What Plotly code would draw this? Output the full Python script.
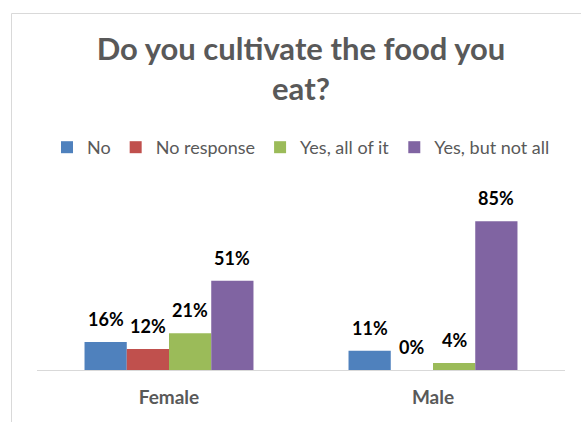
import plotly.graph_objects as go

# Survey results: share of respondents by answer, split by gender
categories = ["Female", "Male"]
answers = ["No", "No response", "Yes, all of it", "Yes, but not all"]
share_no = [0.16, 0.11]
share_no_response = [0.12, 0.00]
share_yes_all = [0.21, 0.04]
share_yes_not_all = [0.51, 0.85]

series = [share_no, share_no_response, share_yes_all, share_yes_not_all]
colors = ["#4F81BD", "#C0504D", "#9BBB59", "#8064A2"]

W, H = 581, 422
ML, MR, MT, MB = 37, 16, 195, 52
BARGAP = 0.36

FONT = "Lato, Roboto, sans-serif"

fig = go.Figure()
for name, vals, col in zip(answers, series, colors):
    fig.add_trace(go.Bar(
        x=categories,
        y=vals,
        name=name,
        marker=dict(color=col, line=dict(width=0)),
        cliponaxis=False,
    ))

# value labels above each bar, centred on the grouped bar slots
n = len(series)
slot = (1 - BARGAP) / n
for k, vals in enumerate(series):
    for i, v in enumerate(vals):
        fig.add_annotation(
            x=i + (k - (n - 1) / 2) * slot, y=v, xref="x", yref="y",
            text=f"{v:.0%}", showarrow=False,
            xanchor="center", yanchor="bottom", yshift=10,
            font=dict(family=FONT, size=18, color="#000000", weight="bold"),
        )

# px -> paper conversions for the outer frame
pw, ph = W - ML - MR, H - MT - MB
def px_x(px):
    return (px - ML) / pw
def px_y(py):
    return (H - MB - py) / ph

frame = dict(color="#D9D9D9", width=1)
fig.add_shape(type="line", xref="paper", yref="paper",
              x0=px_x(11.5), x1=px_x(W + 5), y0=px_y(13.5), y1=px_y(13.5), line=frame)
fig.add_shape(type="line", xref="paper", yref="paper",
              x0=px_x(11.5), x1=px_x(11.5), y0=px_y(13.5), y1=px_y(H + 5), line=frame)

fig.update_layout(
    width=W, height=H,
    margin=dict(l=ML, r=MR, t=MT, b=MB, pad=0),
    paper_bgcolor="white", plot_bgcolor="white",
    barmode="group", bargap=BARGAP, bargroupgap=0,
    title=dict(
        text="Do you cultivate the food you<br>eat?",
        x=0.5, xref="paper", xanchor="center",
        y=1 - 60 / H, yref="container", yanchor="top",
        font=dict(family=FONT, size=31, color="#595959", weight="bold"),
    ),
    legend=dict(
        orientation="h", x=0.5, xanchor="center", xref="paper",
        y=1 - 129 / H, yref="container", yanchor="top",
        font=dict(family=FONT, size=18, color="#595959"),
        itemwidth=30, traceorder="normal",
    ),
    xaxis=dict(
        showline=True, linecolor="#D9D9D9", linewidth=1,
        ticks="", showgrid=False, ticklabelstandoff=10,
        tickfont=dict(family=FONT, size=19, color="#595959", weight="bold"),
    ),
    yaxis=dict(range=[0, 1], visible=False, showgrid=False, zeroline=False),
)

fig.write_html("out.html")
